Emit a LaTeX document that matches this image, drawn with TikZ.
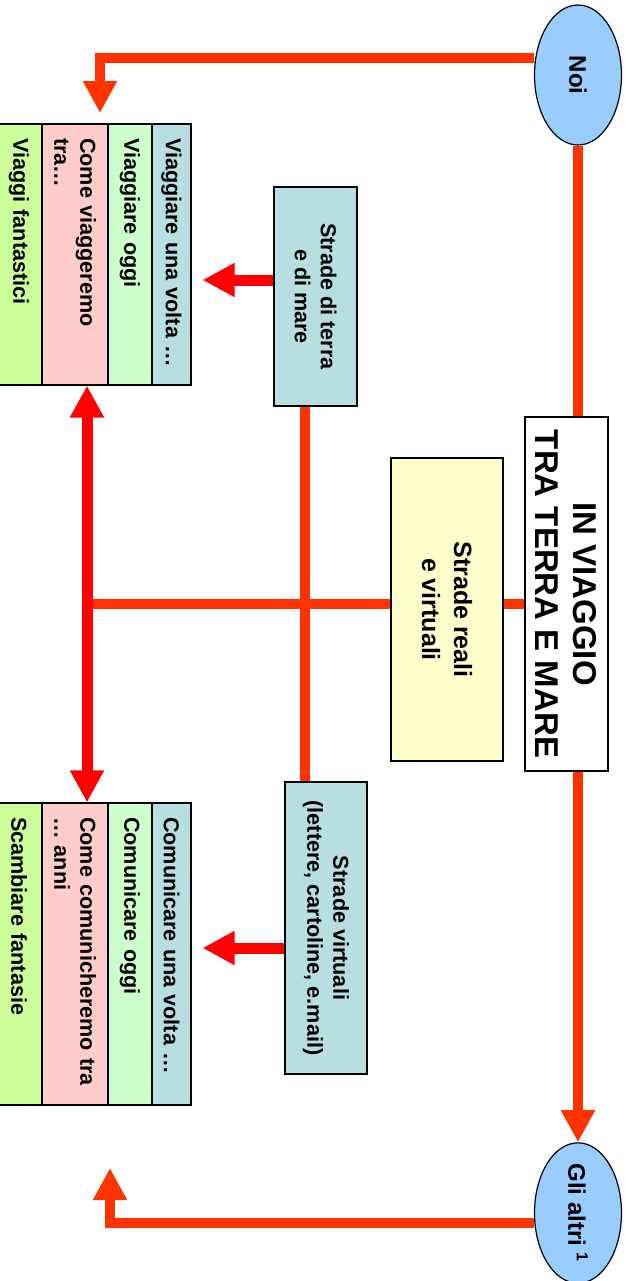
\documentclass[tikz,border=0pt]{standalone}
\usepackage{fontspec}
\setmainfont{Liberation Sans}
\usetikzlibrary{arrows.meta,shapes.geometric}

\definecolor{arancio}{HTML}{FF3300}
\definecolor{rosso}{HTML}{FF0000}
\definecolor{cielo}{HTML}{99CCFF}
\definecolor{acqua}{HTML}{B7DEE0}
\definecolor{giallo}{HTML}{FFFFCC}
\definecolor{rosa}{HTML}{FFCCCC}
\definecolor{menta}{HTML}{CCFFCC}
\definecolor{cedro}{HTML}{CCFF99}

\begin{document}
\begin{tikzpicture}[x=0.5pt,y=-0.5pt,>={Triangle[width=16pt,length=16pt]},
                    font=\fontsize{10.8pt}{13pt}\selectfont\bfseries]
\tikzstyle{box}=[draw=black,line width=0.6pt,rotate=-90,align=center,inner sep=0pt]
\tikzstyle{col}=[box,align=left,inner xsep=7pt,inner ysep=0pt]
\tikzstyle{via}=[line width=5pt,draw=arancio]
\tikzstyle{freccia}=[line width=5.5pt,draw=rosso]
\useasboundingbox (0,0) rectangle (630,1281);

        \node[box,ellipse,fill=cielo,minimum width=70pt,minimum height=43.5pt,font=\fontsize{12pt}{14pt}\selectfont\bfseries]  (noi)   at (578,75)    {Noi};
        \node[box,ellipse,fill=cielo,minimum width=67pt,minimum height=43.5pt,font=\fontsize{12pt}{14pt}\selectfont\bfseries]  (altri) at (578,1213)  {Gli altri \textsuperscript{1}};

        \node[box,fill=white,minimum width=177pt,minimum height=41.5pt,font=\fontsize{16.5pt}{19pt}\selectfont\bfseries]      (title)    at (566.5,594) {IN VIAGGIO\\TRA TERRA E MARE};
        \node[box,fill=giallo,minimum width=151.5pt,minimum height=56pt,font=\fontsize{12.5pt}{16pt}\selectfont\bfseries]      (reali)    at (447,609.5) {Strade reali\\e virtuali};
        \node[box,fill=acqua,minimum width=109.5pt,minimum height=41.5pt]      (terra)    at (315.5,296.5) {Strade di terra\\e di mare};
        \node[box,fill=acqua,minimum width=146pt,minimum height=41pt]          (virtuali) at (326,928)     {Strade virtuali\\(lettere, cartoline, e.mail)};

        % viaggiare
        \node[col,fill=acqua,text width=116.5pt,minimum height=19.5pt]  (tealT)  at (171.5,254.5) {Viaggiare una volta …};
        \node[col,fill=menta,text width=116.5pt,minimum height=22pt]    (greenT) at (130,254.5)   {Viaggiare oggi};
        \node[col,fill=rosa,text width=116.5pt,minimum height=33pt]     (pinkT)  at (75,254.5)    {Come viaggeremo\\tra…};
        \node[col,fill=cedro,text width=116.5pt,minimum height=23pt]    (limeT)  at (19,254.5)    {Viaggi fantastici};

        % comunicare
        \node[col,fill=acqua,text width=137pt,minimum height=19.5pt]    (tealB)  at (171.5,954)   {Comunicare una volta …};
        \node[col,fill=menta,text width=137pt,minimum height=22pt]      (greenB) at (130,954)     {Comunicare oggi};
        \node[col,fill=rosa,text width=137pt,minimum height=33pt]       (pinkB)  at (75,954)      {Come comunicheremo tra\\… anni};
        \node[col,fill=cedro,text width=137pt,minimum height=23pt]      (limeB)  at (19,954)      {Scambiare fantasie};

        \coordinate (a1) at (100,113);
        \coordinate (a2) at (110,1168);
        \coordinate (h)  at ([yshift=-5pt]title.south);
        \coordinate (d1) at ([xshift=6pt]pinkT.east);
        \coordinate (d2) at ([xshift=6pt]pinkB.west);
        \coordinate (v)  at ([xshift=-5.25pt]terra.east);
        \coordinate (t1) at ([yshift=8.25pt]terra.south);
        \coordinate (t2) at ([yshift=-10pt]virtuali.south);

        \draw[via,->] ([yshift=8.5pt]noi.south) -| (a1);
        \draw[via] (noi.east) -- (noi.east |- title.west);
        \draw[via,->] (title.east -| altri.west) -- (altri.west);
        \draw[via,->] ([yshift=-5pt]altri.south) -| (a2);
        \draw[via] (h) -- (h -| reali.north);
        \draw[via] (h -| reali.south) -- (h -| d1);
        \draw[via] (v) -- (v |- virtuali.west);
        \draw[freccia,<->] (d1) -- (d2);
        \draw[freccia,->,shorten >=5.5pt] (t1) -- (t1 -| tealT.north);
        \draw[freccia,->,shorten >=5.5pt] (t2) -- (t2 -| tealB.north);
        %end path

\end{tikzpicture}
\end{document}
